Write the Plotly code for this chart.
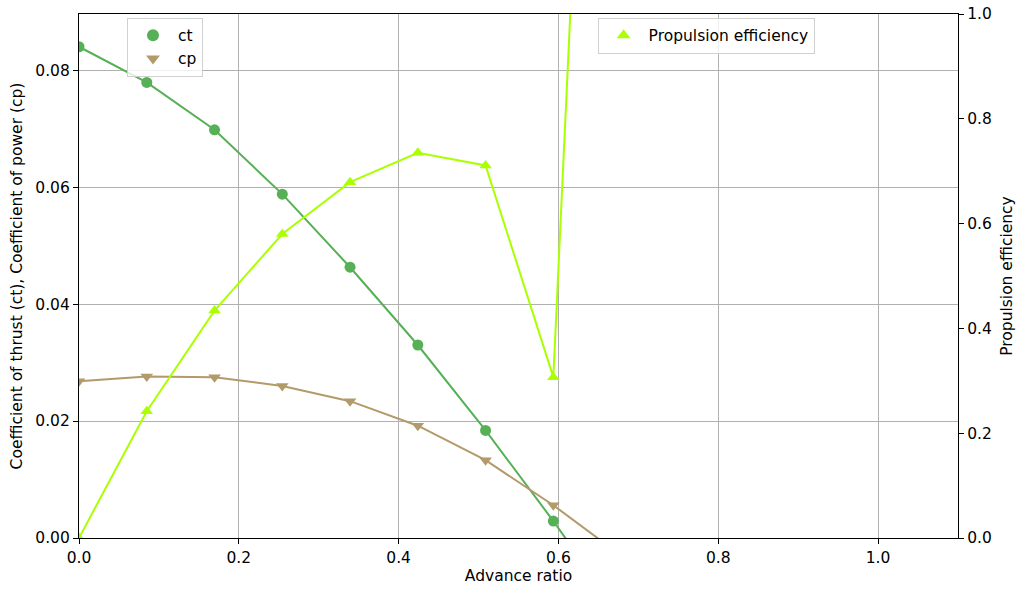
import plotly.graph_objects as go

advance_ratio = [0.0, 0.0848, 0.1696, 0.2544, 0.3392, 0.4240, 0.5088, 0.5936, 0.6784]
ct = [0.0840, 0.0779, 0.0698, 0.0588, 0.0463, 0.0330, 0.0184, 0.0029, -0.0135]
cp = [0.0268, 0.0276, 0.0275, 0.0260, 0.0234, 0.0192, 0.0133, 0.0056, -0.0030]
efficiency = [0.0, 0.242, 0.434, 0.580, 0.679, 0.735, 0.711, 0.307, 3.08]

GREEN = "#56b056"
TAN = "#b39a6a"
LIME = "#aaff00"
FONT = "DejaVu Sans"
FS = 15.5

fig = go.Figure()

fig.add_trace(go.Scatter(x=advance_ratio, y=ct, mode="lines+markers",
                         line=dict(color=GREEN, width=2),
                         marker=dict(symbol="circle", size=11, color=GREEN),
                         showlegend=False, cliponaxis=True))
fig.add_trace(go.Scatter(x=advance_ratio, y=cp, mode="lines+markers",
                         line=dict(color=TAN, width=2),
                         marker=dict(symbol="triangle-down", size=11, color=TAN),
                         showlegend=False, cliponaxis=True))
fig.add_trace(go.Scatter(x=advance_ratio, y=efficiency, mode="lines+markers", yaxis="y2",
                         line=dict(color=LIME, width=2),
                         marker=dict(symbol="triangle-up", size=11, color=LIME),
                         showlegend=False, cliponaxis=True))

# legend-only entries (markers only, like the reference)
fig.add_trace(go.Scatter(x=[None], y=[None], mode="markers", name="ct",
                         marker=dict(symbol="circle", size=11, color=GREEN), legend="legend"))
fig.add_trace(go.Scatter(x=[None], y=[None], mode="markers", name="cp",
                         marker=dict(symbol="triangle-down", size=11, color=TAN), legend="legend"))
fig.add_trace(go.Scatter(x=[None], y=[None], mode="markers", name="Propulsion efficiency", yaxis="y2",
                         marker=dict(symbol="triangle-up", size=11, color=LIME), legend="legend2"))

axis_common = dict(showline=True, linecolor="black", linewidth=1.2, ticks="outside",
                   ticklen=5, tickwidth=1.2, tickcolor="black", zeroline=False, automargin=False,
                   tickfont=dict(family=FONT, size=FS, color="black"))

fig.update_layout(
    width=1017, height=589,
    margin=dict(l=79, r=59, t=14, b=51),
    paper_bgcolor="white", plot_bgcolor="white",
    font=dict(family=FONT, size=FS, color="black"),
    xaxis=dict(range=[0, 1.1], tick0=0, dtick=0.2, tickformat=".1f",
               showgrid=True, gridcolor="#b0b0b0", gridwidth=1, mirror=True,
               title=dict(text="Advance ratio", font=dict(family=FONT, size=FS), standoff=4),
               **axis_common),
    yaxis=dict(range=[0, 0.0896], tick0=0, dtick=0.02, tickformat=".2f",
               showgrid=True, gridcolor="#b0b0b0", gridwidth=1,
               title=dict(text="Coefficient of thrust (ct), Coefficient of power (cp)",
                          font=dict(family=FONT, size=FS), standoff=8),
               **axis_common),
    yaxis2=dict(range=[0, 1], tick0=0, dtick=0.2, tickformat=".1f", overlaying="y", side="right",
                showgrid=False,
                title=dict(text="Propulsion efficiency", font=dict(family=FONT, size=FS), standoff=10),
                **axis_common),
    legend=dict(x=0.0546, y=0.993, xanchor="left", yanchor="top",
                bgcolor="rgba(255,255,255,0.8)", bordercolor="#d0d0d0", borderwidth=1,
                font=dict(family=FONT, size=FS), tracegroupgap=0, itemsizing="constant",
                itemwidth=40),
    legend2=dict(x=0.590, y=0.993, xanchor="left", yanchor="top",
                 bgcolor="rgba(255,255,255,0.8)", bordercolor="#d0d0d0", borderwidth=1,
                 font=dict(family=FONT, size=FS), itemsizing="constant", itemwidth=40),
)

fig.write_html("out.html")
